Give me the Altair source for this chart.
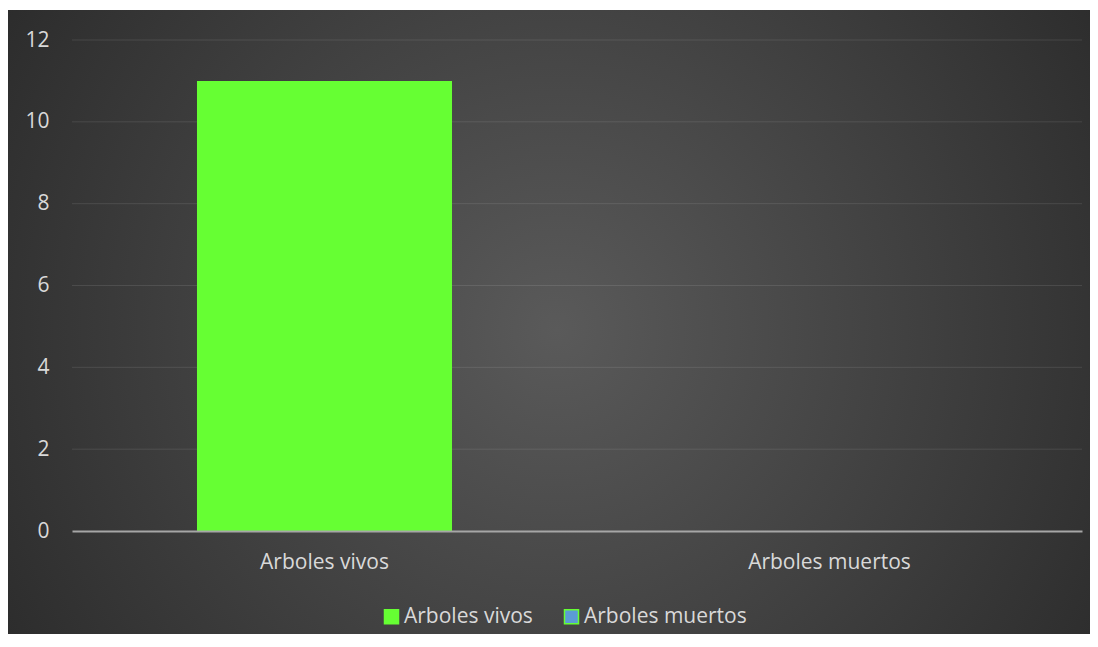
import altair as alt
import pandas as pd

categories = ["Arboles vivos", "Arboles muertos"]
values = [11, 0]
colors = ["#66ff33", "#5b9bd5"]
y_ticks = [0, 2, 4, 6, 8, 10, 12]

df = pd.DataFrame({"categoria": categories, "valor": values})
grid_df = pd.DataFrame({"tick": y_ticks[1:]})

W, H = 1010, 491
PL, PT, PR, PB = 64, 32, 8, 103
FONT = "Open Sans"
TXT = "#d9d9d9"
FS = 21

bg = alt.Chart(pd.DataFrame({"d": [0]})).mark_rect(
    clip=False,
    fill=alt.RadialGradient(
        gradient="radial",
        stops=[
            alt.GradientStop(color="#5a5a5a", offset=0),
            alt.GradientStop(color="#262626", offset=1),
        ],
        x1=0.5, y1=0.5, r1=0.0,
        x2=0.5, y2=0.5, r2=0.66,
    ),
).encode(
    x=alt.value(-PL),
    x2=alt.value(W + PR + 16),
    y=alt.value(-PT + 2),
    y2=alt.value(H + PB + 16),
)

grid = alt.Chart(grid_df).mark_rule(
    color="#ffffff", opacity=0.1, strokeWidth=1
).encode(
    y=alt.Y("tick:Q"),
    x=alt.value(0),
    x2=alt.value(W),
)

bars = alt.Chart(df).mark_bar().encode(
    x=alt.X(
        "categoria:N",
        sort=categories,
        title=None,
        scale=alt.Scale(paddingInner=0.495, paddingOuter=0.2475),
        axis=alt.Axis(
            labelAngle=0, ticks=False, domain=True, domainColor="#a6a6a6",
            domainWidth=2, labelPadding=20, grid=False, zindex=1,
        ),
    ),
    y=alt.Y(
        "valor:Q",
        title=None,
        scale=alt.Scale(domain=[0, 12]),
        axis=alt.Axis(
            values=y_ticks, domain=False, ticks=False, labelPadding=23,
            grid=False, zindex=1,
        ),
    ),
    color=alt.Color(
        "categoria:N",
        sort=categories,
        scale=alt.Scale(domain=categories, range=colors),
        legend=alt.Legend(
            title=None, orient="none", direction="horizontal",
            legendX=309, legendY=566,
            symbolType="square", symbolSize=196,
            symbolStrokeColor="#66ff33", symbolStrokeWidth=1.5,
            labelOffset=2, columnPadding=28, labelLimit=400,
        ),
    ),
)

chart = alt.layer(bg, grid, bars).properties(
    width=W, height=H,
    autosize=alt.AutoSizeParams(type="none"),
    padding={"left": PL, "top": PT, "right": PR, "bottom": PB},
).configure(
    background="#ffffff",
).configure_view(
    stroke=None,
).configure_axis(
    labelFont=FONT, labelFontSize=FS, labelColor=TXT,
).configure_legend(
    labelFont=FONT, labelFontSize=FS, labelColor=TXT,
)

chart.save("out.html", embed_options={"renderer": "svg", "actions": False})
